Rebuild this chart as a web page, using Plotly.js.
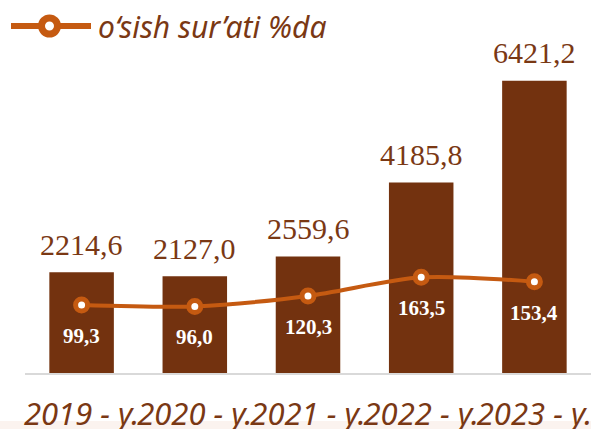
<!DOCTYPE html>
<html><head><meta charset="utf-8">
<script src="https://cdn.plot.ly/plotly-3.0.1.min.js"></script>
<style>html,body{margin:0;padding:0;background:#fff;}#chart{width:591px;height:429px;}</style>
</head><body><div id="chart"></div>
<script>
const categories = ["2019 - y.", "2020 - y.", "2021 - y.", "2022 - y.", "2023 - y."];
const volumes = [2214.6, 2127.0, 2559.6, 4185.8, 6421.2];
const growth = [99.3, 96.0, 120.3, 163.5, 153.4];
const volumeLabels = ["2214,6", "2127,0", "2559,6", "4185,8", "6421,2"];
const growthLabels = ["99,3", "96,0", "120,3", "163,5", "153,4"];
const legendName = "o‘sish sur’ati %da";

const barColor = "#73320f";
const lineColor = "#c55a11";
const textBrown = "#7a3814";

const W = 591, H = 429;
const M = {l: 25, r: 0, t: 40, b: 56};
const PW = W - M.l - M.r, PH = H - M.t - M.b;
const px = v => (v - M.l) / PW;        // container px -> paper x
const py = v => (H - M.b - v) / PH;    // container px -> paper y

const bars = {
  type: "bar", x: categories, y: volumes, marker: {color: barColor},
  width: 0.57, showlegend: false, hoverinfo: "skip"
};
const line = {
  type: "scatter", mode: "lines+markers", x: categories, y: growth, yaxis: "y2",
  name: legendName, showlegend: false,
  line: {color: lineColor, width: 4, shape: "spline", smoothing: 0.8},
  marker: {size: 12, color: "#ffffff", line: {color: lineColor, width: 5}},
  hoverinfo: "skip"
};

const annotations = [];
categories.forEach((c, i) => {
  annotations.push({x: c, y: volumes[i], xref: "x", yref: "y", text: volumeLabels[i],
    showarrow: false, yanchor: "middle", yshift: 28,
    font: {family: "Liberation Serif, Times New Roman, serif", size: 30, color: textBrown}});
  annotations.push({x: c, y: growth[i], xref: "x", yref: "y2", text: growthLabels[i],
    showarrow: false, yanchor: "middle", yshift: -31,
    font: {family: "Liberation Serif, Times New Roman, serif", size: 21, color: "#ffffff", weight: "bold"}});
});
// legend text
annotations.push({xref: "paper", yref: "paper", x: px(96), y: py(26), xanchor: "left", yanchor: "middle",
  showarrow: false, text: legendName,
  font: {family: "Noto Sans, sans-serif", size: 30, color: textBrown, style: "italic"}});

const layout = {
  width: W, height: H,
  margin: M,
  paper_bgcolor: "#ffffff", plot_bgcolor: "#ffffff",
  showlegend: false,
  xaxis: {
    type: "category", showgrid: false, zeroline: false,
    showline: true, linecolor: "#d9d9d9", linewidth: 2,
    ticks: "", ticklabelstandoff: 13, tickangle: 0,
    tickfont: {family: "Noto Sans, sans-serif", size: 31, color: textBrown, style: "italic"},
    fixedrange: true
  },
  yaxis: {range: [0, 7315], visible: false, showgrid: false, zeroline: false, fixedrange: true},
  yaxis2: {range: [-58.5, 714.1], overlaying: "y", side: "right", visible: false, showgrid: false, zeroline: false, fixedrange: true},
  annotations: annotations,
  shapes: [
    {type: "rect", xref: "paper", yref: "paper", x0: px(0), x1: px(W), y0: py(421), y1: py(H),
      fillcolor: "#fbf3ef", line: {width: 0}, layer: "below"},
    {type: "line", xref: "paper", yref: "paper", x0: px(11), x1: px(91), y0: py(26), y1: py(26),
      line: {color: lineColor, width: 6}},
    {type: "circle", xref: "paper", yref: "paper", x0: px(41.5), x1: px(57.5), y0: py(18), y1: py(34),
      fillcolor: "#ffffff", line: {color: lineColor, width: 7}}
  ]
};

Plotly.newPlot("chart", [bars, line], layout, {displayModeBar: false, staticPlot: true});
</script></body></html>
